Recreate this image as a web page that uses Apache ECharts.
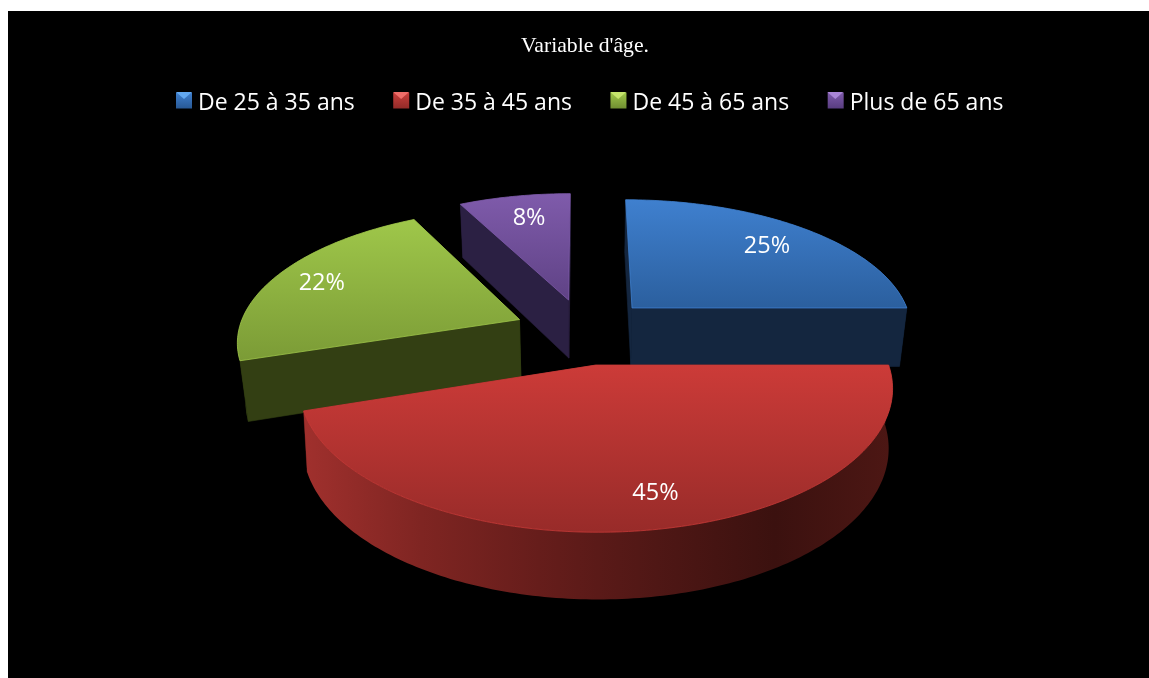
<!DOCTYPE html>
<html><head><meta charset="utf-8">
<style>html,body{margin:0;padding:0;background:#fff}#c{width:1149px;height:678px}</style>
<script src="https://cdn.jsdelivr.net/npm/echarts@6/dist/echarts.min.js"></script>
</head><body><div id="c"></div>
<script>
var titleText = "Variable d'âge.";
var categories = ['De 25 à 35 ans', 'De 35 à 45 ans', 'De 45 à 65 ans', 'Plus de 65 ans'];
var values = [25, 45, 22.4, 7.6];

// Drawing style and projection, separate from the data
var topColors = [['#3f80cf','#2b5f9e'],['#cc3b38','#982b29'],['#9fc74a','#7b9b36'],['#7f5bab','#5f4285']];
var legendColors = [['#3f80cf','#1f4a80'],['#c93f3c','#7f2321'],['#9fc74a','#5f7a28'],['#7f5bab','#4a3270']];
var legendBevel = ['#62a8f0','#ef6d69','#c5e46c','#a985d6'];
var sideColors = ['#14263f','#5c1b1a','#333f13','#2b2043'];
var wallStops = {1:['#4d1714','#3b110f','#4f1715','#661d1b','#7f2522','#a0302d']};
var explode = [[0.184,-0.2],[0.047,0.232],[-0.227,-0.108],[-0.05,-0.265]];
var stretchX = [1.011,1.01,1.007,1];
var depthH = [61,58,61,61];
var converge = [0.024,0.012,0.024,0.024];
var labelShift = [[0.551,-0.549],[0.175,0.79],[-0.76,-0.307],[-0.168,-0.757]];
var drawOrder = [3,2,0,1];
var cx=582, cy=333.5, Rx=280, Ry=131.5, k=0.15;

function pt(u,v,z,i){var w=1-k*v+converge[i]*z;return [cx+Rx*u/w, cy+(Ry*v+depthH[i]*z)/w];}

var total = values.reduce(function(a,b){return a+b;},0);
function startAngle(i){var s=0;for(var j=0;j<i;j++)s+=values[j];return s/total*360;}

function renderSlice(i){
  return function(){
    var a0=startAngle(i), a1=a0+values[i]/total*360, ex=explode[i][0], ev=explode[i][1], sx=stretchX[i];
    var rad=function(a){return a*Math.PI/180;};
    var rim=function(a,z){return pt(ex+sx*Math.sin(rad(a)),ev-Math.cos(rad(a)),z,i);};
    var apex=function(z){return pt(ex,ev,z,i);};
    var faces=[], n=Math.max(8,Math.round(a1-a0));
    function quad(p,depth,color){faces.push({d:depth,el:{type:'polygon',shape:{points:p},silent:true,style:{fill:color,stroke:color,lineWidth:0.6}}});}
    quad([apex(0),rim(a0,0),rim(a0,1),apex(1)],ev-Math.cos(rad(a0))/2,sideColors[i]);
    quad([apex(0),rim(a1,0),rim(a1,1),apex(1)],ev-Math.cos(rad(a1))/2,sideColors[i]);
    var wall=[],s;
    for(s=0;s<=n;s++) wall.push(rim(a0+(a1-a0)*s/n,0));
    for(s=n;s>=0;s--) wall.push(rim(a0+(a1-a0)*s/n,1));
    var fill=sideColors[i];
    if(wallStops[i]){
      fill=new echarts.graphic.LinearGradient(1,0,0,0,wallStops[i].map(function(c,j,arr){return {offset:j/(arr.length-1),color:c};}));
    }
    faces.push({d:ev-Math.cos(rad((a0+a1)/2)),el:{type:'polygon',shape:{points:wall},silent:true,style:{fill:fill}}});
    faces.sort(function(p,q){return p.d-q.d;});
    var top=[apex(0)];
    for(s=0;s<=n;s++) top.push(rim(a0+(a1-a0)*s/n,0));
    var kids=faces.map(function(f){return f.el;});
    kids.push({type:'polygon',shape:{points:top},silent:true,style:{
      fill:new echarts.graphic.LinearGradient(0,0,0,1,[{offset:0,color:topColors[i][0]},{offset:1,color:topColors[i][1]}]),
      stroke:topColors[i][0],lineWidth:0.8}});
    var lp=pt(ex+labelShift[i][0],ev+labelShift[i][1],0,i);
    kids.push({type:'text',silent:true,style:{x:lp[0],y:lp[1]+1,text:Math.round(values[i])+'%',fill:'#fff',
      font:'23.5px "Open Sans", sans-serif',align:'center',verticalAlign:'middle'}});
    return {type:'group',children:kids};
  };
}

var series = drawOrder.map(function(i){
  return {type:'custom',name:categories[i],coordinateSystem:'none',data:[[values[i]]],
    itemStyle:{color:new echarts.graphic.LinearGradient(0,0,0,1,[{offset:0,color:legendColors[i][0]},{offset:1,color:legendColors[i][1]}])},
    renderItem:renderSlice(i),silent:true};
});

var legendIconX=[176,393.1,610.2,827.3];
var bevels=legendBevel.map(function(c,i){
  var x=legendIconX[i],y=92;
  return {type:'polygon',z:200,silent:true,shape:{points:[[x,y],[x+16,y],[x+8,y+7]]},style:{fill:c}};
});

var chart=echarts.init(document.getElementById('c'));
chart.setOption({
  animation:false,
  backgroundColor:'#fff',
  graphic:[{type:'rect',z:-10,silent:true,shape:{x:8,y:11,width:1141,height:667},style:{fill:'#000'}}].concat(bevels),
  title:{text:titleText,left:585,top:35,textAlign:'center',padding:0,
    textStyle:{color:'#fff',fontFamily:'"Liberation Serif", serif',fontSize:21.7,fontWeight:'normal'}},
  legend:{data:categories,left:176,top:92,padding:0,itemWidth:16,itemHeight:22,itemGap:38.5,
    icon:'path://M0 0H16V16H0ZM0 22H16V22.01H0Z',selectedMode:false,
    textStyle:{color:'#fff',fontFamily:'"Open Sans", sans-serif',fontSize:23,padding:[0,0,0,1]}},
  series:series
});
</script></body></html>
